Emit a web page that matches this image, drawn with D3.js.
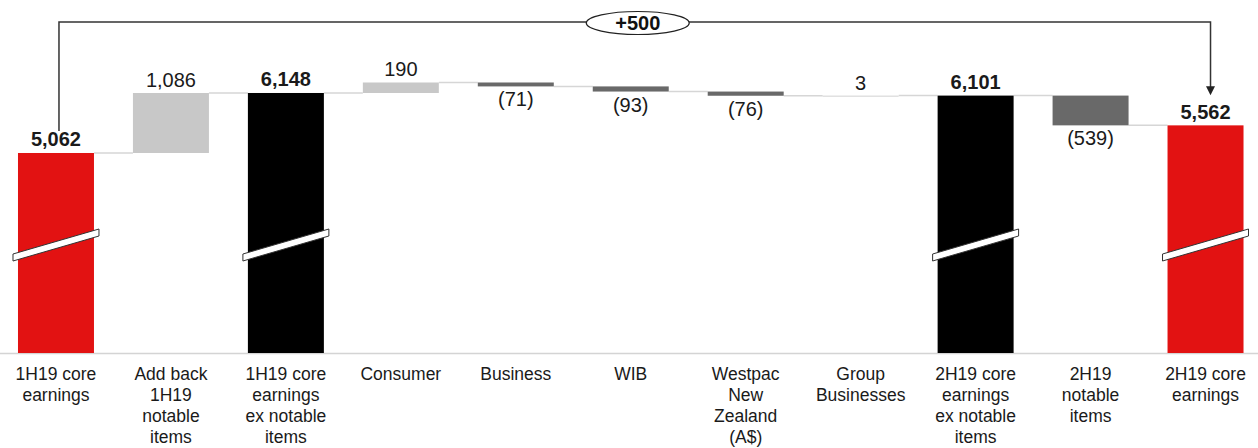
<!DOCTYPE html>
<html>
<head>
<meta charset="utf-8">
<script src="https://cdn.jsdelivr.net/npm/d3@7"></script>
<style>
  html, body { margin: 0; padding: 0; background: #fff; }
  svg { display: block; font-family: Arial, "Liberation Sans", sans-serif; }
</style>
</head>
<body>
<svg id="chart" width="1258" height="448"></svg>
<script>
// ---- data ----
const categories = [
  "1H19 core earnings", "Add back 1H19 notable items", "1H19 core earnings ex notable items",
  "Consumer", "Business", "WIB", "Westpac New Zealand (A$)", "Group Businesses",
  "2H19 core earnings ex notable items", "2H19 notable items", "2H19 core earnings"
];
const tickLabels = [
  ["1H19 core", "earnings"],
  ["Add back", "1H19", "notable", "items"],
  ["1H19 core", "earnings", "ex notable", "items"],
  ["Consumer"],
  ["Business"],
  ["WIB"],
  ["Westpac", "New", "Zealand", "(A$)"],
  ["Group", "Businesses"],
  ["2H19 core", "earnings", "ex notable", "items"],
  ["2H19", "notable", "items"],
  ["2H19 core", "earnings"]
];
const values = [5062, 1086, 6148, 190, -71, -93, -76, 3, 6101, -539, 5562];
const kinds = ["total", "delta", "total", "delta", "delta", "delta", "delta", "delta", "total", "delta", "total"];
const valueLabels = ["5,062", "1,086", "6,148", "190", "(71)", "(93)", "(76)", "3", "6,101", "(539)", "5,562"];
const totalColors = ["#e21212", null, "#000000", null, null, null, null, null, "#000000", null, "#e21212"];
const changeLabel = "+500";

// ---- layout ----
const W = 1258, H = 448;
const baseY = 353;
const svg = d3.select("#chart");

const x = d3.scaleBand().domain(categories).range([-1.5, 1263]).paddingInner(0.339).paddingOuter(0.1695);
const y = d3.scaleLinear().domain([1442, 7831]).range([baseY, 0]);

// compute waterfall segments
let running = 0;
const bars = categories.map((c, i) => {
  let start, end;
  if (kinds[i] === "total") { start = y.domain()[0]; end = values[i]; running = values[i]; }
  else { start = running; end = running + values[i]; running = end; }
  return { c, i, start, end, v: values[i], kind: kinds[i] };
});

// axis baseline
svg.append("line").attr("x1", 0).attr("x2", W).attr("y1", baseY + 0.5).attr("y2", baseY + 0.5)
  .attr("stroke", "#d4d4d4").attr("stroke-width", 1.5);

// connectors
for (let i = 0; i < bars.length - 1; i++) {
  const lvl = bars[i].end;
  svg.append("line")
    .attr("x1", x(bars[i].c) + x.bandwidth()).attr("x2", x(bars[i + 1].c))
    .attr("y1", y(lvl)).attr("y2", y(lvl))
    .attr("stroke", "#d6d6d6").attr("stroke-width", 1.5);
}

// bars
svg.selectAll("rect.bar").data(bars).enter().append("rect")
  .attr("class", "bar")
  .attr("x", d => x(d.c))
  .attr("width", x.bandwidth())
  .attr("y", d => Math.min(y(d.start), y(d.end)))
  .attr("height", d => Math.max(1.2, Math.abs(y(d.start) - y(d.end))))
  .attr("fill", d => d.kind === "total" ? totalColors[d.i] : (d.v >= 0 ? (Math.abs(d.v) < 10 ? "#d9d9d9" : "#c8c8c8") : "#696969"));

// break marks on total bars
bars.filter(d => d.kind === "total").forEach(d => {
  const xl = x(d.c) - 5, xr = x(d.c) + x.bandwidth() + 5;
  const yl = baseY - 92, yr = baseY - 117;
  const t = 7;
  svg.append("polygon")
    .attr("points", [[xl, yl], [xr, yr], [xr, yr - t], [xl, yl - t]].map(p => p.join(",")).join(" "))
    .attr("fill", "#fff").attr("stroke", "#333").attr("stroke-width", 1);
});

// value labels
svg.selectAll("text.val").data(bars).enter().append("text")
  .attr("class", "val")
  .attr("x", d => x(d.c) + x.bandwidth() / 2)
  .attr("y", d => {
    const top = Math.min(y(d.start), y(d.end)), bot = Math.max(y(d.start), y(d.end));
    if (d.kind === "total") return top - 6.5;
    return d.v >= 0 ? top - 6 : bot + 20;
  })
  .attr("text-anchor", "middle")
  .attr("font-size", 20)
  .attr("font-weight", d => d.kind === "total" ? "bold" : "normal")
  .attr("fill", "#1a1a1a")
  .text(d => valueLabels[d.i]);

// category labels
const cat = svg.selectAll("text.cat").data(bars).enter().append("text")
  .attr("class", "cat")
  .attr("x", d => x(d.c) + x.bandwidth() / 2)
  .attr("y", 380)
  .attr("text-anchor", "middle")
  .attr("font-size", 17.5)
  .attr("fill", "#1a1a1a");
cat.each(function (d) {
  const t = d3.select(this);
  tickLabels[d.i].forEach((ln, k) => {
    t.append("tspan").attr("x", x(d.c) + x.bandwidth() / 2).attr("y", 380 + k * 21).text(ln);
  });
});

// bracket with +500
const first = bars[0], last = bars[bars.length - 1];
const lx = x(first.c) + x.bandwidth() / 2 + 3;
const rx = x(last.c) + x.bandwidth() / 2 + 5;
const topY = 22;
const lBot = y(first.end) - 22;
const arrowTip = y(last.end) - 30;
svg.append("path")
  .attr("d", `M${lx},${lBot} L${lx},${topY} L${rx},${topY} L${rx},${arrowTip - 8}`)
  .attr("fill", "none").attr("stroke", "#333").attr("stroke-width", 1.5);
svg.append("path")
  .attr("d", `M${rx - 4.5},${arrowTip - 9} L${rx + 4.5},${arrowTip - 9} L${rx},${arrowTip} Z`)
  .attr("fill", "#222");
const ex = (lx + rx) / 2 + 3;
svg.append("ellipse").attr("cx", ex).attr("cy", topY + 1).attr("rx", 51.5).attr("ry", 11.5)
  .attr("fill", "#fff").attr("stroke", "#222").attr("stroke-width", 1.2);
svg.append("text").attr("x", ex).attr("y", topY + 8).attr("text-anchor", "middle")
  .attr("font-size", 20).attr("font-weight", "bold").attr("fill", "#111").text(changeLabel);
</script>
</body>
</html>
